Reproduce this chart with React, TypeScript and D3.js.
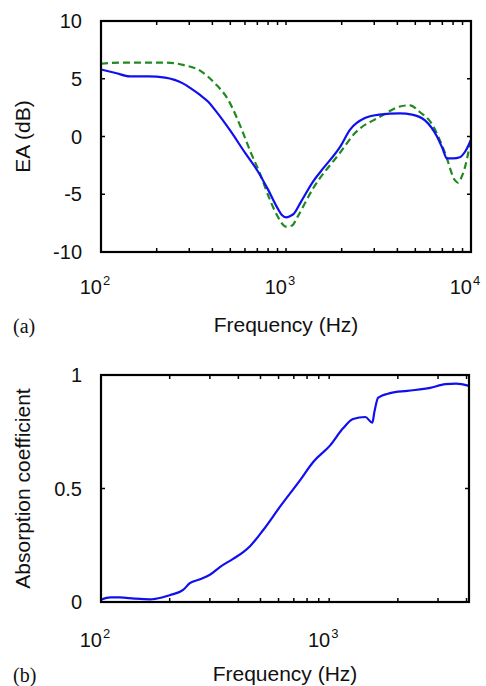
import React from "react";
import * as d3 from "d3";

// ---- Data: panel (a) EA (dB) vs frequency ----
const freqA1 = [100, 120, 143, 180, 222, 250, 277, 310, 343, 380, 413, 500, 600, 697, 800, 900, 950, 1000, 1050, 1100, 1200, 1400, 1600, 1960, 2220, 2670, 3200, 4130, 4800, 5640, 6550, 7000, 7420, 8000, 8700, 9300, 10000];
const eaBlue = [5.8, 5.5, 5.2, 5.2, 5.1, 4.9, 4.6, 4.1, 3.6, 3.0, 2.3, 0.5, -1.4, -2.9, -4.6, -6.2, -6.8, -7.0, -6.9, -6.7, -5.7, -3.9, -2.7, -0.9, 0.6, 1.6, 1.9, 2.0, 1.9, 1.4, 0.0, -1.0, -1.9, -1.9, -1.8, -1.3, -0.3];

const freqA2 = [100, 130, 170, 222, 260, 277, 343, 413, 486, 543, 580, 638, 723, 820, 900, 1000, 1080, 1150, 1400, 1960, 2360, 3220, 4130, 4680, 5300, 6080, 7230, 8200, 8500, 9000, 9500, 10000];
const eaGreen = [6.3, 6.4, 6.4, 6.4, 6.3, 6.2, 5.7, 4.6, 3.2, 1.6, 0.5, -1.2, -3.2, -5.5, -6.9, -7.8, -7.7, -7.0, -4.5, -1.4, 0.3, 1.7, 2.6, 2.7, 2.1, 1.2, -1.4, -3.8, -4.0, -3.3, -2.0, 0.0];

// ---- Data: panel (b) absorption coefficient ----
const freqB = [100, 110, 121, 140, 164, 185, 200, 229, 245, 272, 300, 333, 379, 420, 451, 514, 609, 746, 851, 1010, 1150, 1273, 1440, 1545, 1580, 1640, 1850, 2200, 2770, 3230, 3600, 4100];
const absorption = [0.01, 0.02, 0.02, 0.015, 0.012, 0.02, 0.03, 0.053, 0.083, 0.1, 0.12, 0.155, 0.19, 0.22, 0.247, 0.317, 0.42, 0.537, 0.617, 0.69, 0.765, 0.806, 0.815, 0.79, 0.84, 0.9, 0.92, 0.93, 0.943, 0.96, 0.962, 0.952];

const yTicksA = [-10, -5, 0, 5, 10];
const yTicksB = [0, 0.5, 1];
const yTickLabelsB = ["0", "0.5", "1"];
const decadesA = [2, 3, 4];
const decadesB = [2, 3];

const FONT = "'Liberation Sans', Arial, sans-serif";
const BLUE = "#1010ee";
const GREEN = "#1f8a1f";
const INK = "#111";

type PanelProps = {
  top: number;
  bottom: number;
  left: number;
  right: number;
  xDomain: [number, number];
  yDomain: [number, number];
  yTicks: number[];
  yTickLabels: string[];
  decades: number[];
  series: { f: number[]; v: number[]; color: string; dash?: string }[];
  yLabel: string;
  tickLabelY: number;
  xLabelY: number;
  letter: string;
};

function Panel(p: PanelProps) {
  const x = d3.scaleLog().domain(p.xDomain).range([p.left, p.right]);
  const y = d3.scaleLinear().domain(p.yDomain).range([p.bottom, p.top]);
  const minor: number[] = [];
  for (let e = 2; e < 5; e++) {
    for (let m = 1; m < 10; m++) {
      const f = m * Math.pow(10, e);
      if (f >= p.xDomain[0] && f <= p.xDomain[1]) minor.push(f);
    }
  }
  const tl = 4;
  const cy = (p.top + p.bottom) / 2;
  const cx = (p.left + p.right) / 2;
  return (
    <g>
      {p.series.map((s, i) => {
        const line = d3
          .line<number>()
          .x((_, j) => x(s.f[j]))
          .y((d) => y(d))
          .curve(d3.curveMonotoneX);
        return (
          <path
            key={i}
            d={line(s.v) || ""}
            fill="none"
            stroke={s.color}
            strokeWidth={2.2}
            strokeDasharray={s.dash}
            strokeLinejoin="round"
          />
        );
      })}
      {minor.map((f, i) => (
        <g key={"m" + i} stroke="#000" strokeWidth={1.5}>
          <line x1={x(f)} x2={x(f)} y1={p.bottom} y2={p.bottom - tl} />
          <line x1={x(f)} x2={x(f)} y1={p.top} y2={p.top + tl} />
        </g>
      ))}
      {p.yTicks.map((t, i) => (
        <g key={"y" + i}>
          <line x1={p.left} x2={p.left + tl} y1={y(t)} y2={y(t)} stroke="#000" strokeWidth={1.5} />
          <line x1={p.right} x2={p.right - tl} y1={y(t)} y2={y(t)} stroke="#000" strokeWidth={1.5} />
          <text x={82} y={y(t)} dy="0.36em" textAnchor="end" fontSize={20} fontFamily={FONT} fill={INK}>
            {p.yTickLabels[i]}
          </text>
        </g>
      ))}
      <rect
        x={p.left}
        y={p.top}
        width={p.right - p.left}
        height={p.bottom - p.top}
        fill="none"
        stroke="#000"
        strokeWidth={2.2}
      />
      {p.decades.map((e) => {
        const xx = x(Math.pow(10, e));
        return (
          <g key={"d" + e} fontFamily={FONT} fill={INK}>
            <text x={xx + 1} y={p.tickLabelY} textAnchor="end" fontSize={20}>
              10
            </text>
            <text x={xx + 2} y={p.tickLabelY - 9} fontSize={13}>
              {e}
            </text>
          </g>
        );
      })}
      <text x={cx} y={p.xLabelY} textAnchor="middle" fontSize={21} fontFamily={FONT} fill={INK}>
        Frequency (Hz)
      </text>
      <text
        transform={`translate(30,${cy}) rotate(-90)`}
        textAnchor="middle"
        fontSize={21}
        fontFamily={FONT}
        fill={INK}
      >
        {p.yLabel}
      </text>
      <text x={13} y={p.xLabelY + 1} fontSize={20} fontFamily="'Liberation Serif', 'Times New Roman', serif" fill={INK}>
        {p.letter}
      </text>
    </g>
  );
}

export default function App() {
  return (
    <svg
      width={486}
      height={686}
      style={{ position: "absolute", left: 0, top: 0, background: "#fff" }}
    >
      <rect width={486} height={686} fill="#fff" />
      <Panel
        top={21}
        bottom={252}
        left={101}
        right={471}
        xDomain={[100, 10000]}
        yDomain={[-10, 10]}
        yTicks={yTicksA}
        yTickLabels={yTicksA.map(String)}
        decades={decadesA}
        series={[
          { f: freqA2, v: eaGreen, color: GREEN, dash: "7,4" },
          { f: freqA1, v: eaBlue, color: BLUE },
        ]}
        yLabel="EA (dB)"
        tickLabelY={294}
        xLabelY={332}
        letter="(a)"
      />
      <Panel
        top={375}
        bottom={602}
        left={101}
        right={469}
        xDomain={[100, 4100]}
        yDomain={[0, 1]}
        yTicks={yTicksB}
        yTickLabels={yTickLabelsB}
        decades={decadesB}
        series={[{ f: freqB, v: absorption, color: BLUE }]}
        yLabel="Absorption coefficient"
        tickLabelY={647}
        xLabelY={681}
        letter="(b)"
      />
    </svg>
  );
}
